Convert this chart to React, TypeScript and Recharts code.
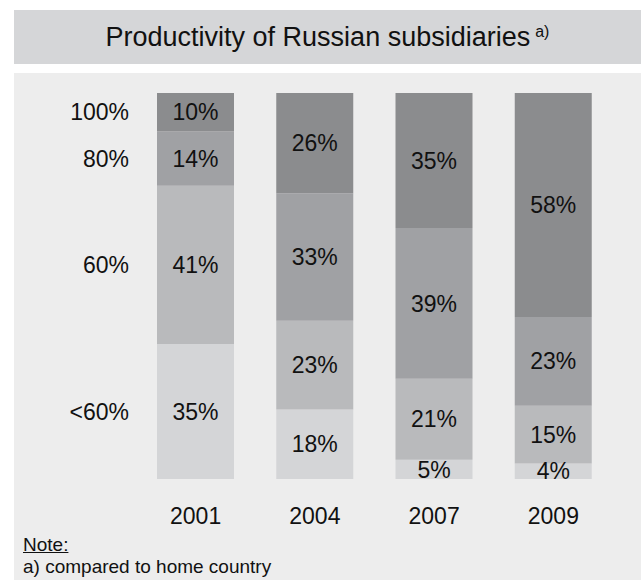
import React from 'react';
import { BarChart, Bar, XAxis, YAxis, LabelList } from 'recharts';

const years = ['2001', '2004', '2007', '2009'];
const below60 = [35, 18, 5, 4];
const pct60 = [41, 23, 21, 15];
const pct80 = [14, 33, 39, 23];
const pct100 = [10, 26, 35, 58];
const yLabels = ['<60%', '60%', '80%', '100%'];

const seriesKeys = ['below60', 'pct60', 'pct80', 'pct100'];
const seriesColors = ['#d4d5d7', '#b9babc', '#a0a1a4', '#8b8c8e'];

const data = years.map((year, i) => ({
  year,
  below60: below60[i],
  pct60: pct60[i],
  pct80: pct80[i],
  pct100: pct100[i],
}));

// y tick positions: midpoints of the first year's stacked segments
const firstVals = [below60[0], pct60[0], pct80[0], pct100[0]];
const yTicks: number[] = [];
{
  let acc = 0;
  for (const v of firstVals) {
    yTicks.push(acc + v / 2);
    acc += v;
  }
}

const FONT = '"Liberation Sans", Arial, Helvetica, sans-serif';
const TEXT = '#111111';

export default function App() {
  return (
    <div
      style={{
        position: 'absolute',
        left: 0,
        top: 0,
        width: 641,
        height: 580,
        background: '#ffffff',
        fontFamily: FONT,
        color: TEXT,
        overflow: 'hidden',
      }}
    >
      <div
        style={{
          position: 'absolute',
          left: 14,
          top: 10,
          width: 627,
          height: 54,
          background: '#d5d6d8',
        }}
      />
      <div
        style={{
          position: 'absolute',
          left: 14,
          top: 23.8,
          width: 627,
          textAlign: 'center',
          fontSize: 27,
          lineHeight: '27px',
          whiteSpace: 'nowrap',
        }}
      >
        Productivity of Russian subsidiaries
        <span
          style={{
            fontSize: 16,
            marginLeft: 5,
            position: 'relative',
            top: -9,
          }}
        >
          a)
        </span>
      </div>
      <div
        style={{
          position: 'absolute',
          left: 14,
          top: 73,
          width: 627,
          height: 507,
          background: '#ededed',
        }}
      />
      <div style={{ position: 'absolute', left: 0, top: 0 }}>
        <BarChart
          width={641}
          height={580}
          data={data}
          margin={{ top: 93, right: 28, bottom: 0, left: 0 }}
          barSize={77}
        >
          <XAxis
            dataKey="year"
            height={101}
            axisLine={false}
            tickLine={false}
            tickSize={0}
            tickMargin={29}
            tick={{ fill: TEXT, fontSize: 23, fontFamily: FONT }}
            interval={0}
          />
          <YAxis
            type="number"
            domain={[0, 100]}
            width={136}
            ticks={yTicks}
            interval={0}
            axisLine={false}
            tickLine={false}
            tickSize={0}
            tickMargin={7}
            tickFormatter={(v: number) => yLabels[yTicks.indexOf(v)] ?? ''}
            tick={{ fill: TEXT, fontSize: 23, fontFamily: FONT }}
          />
          {seriesKeys.map((k, i) => (
            <Bar
              key={k}
              dataKey={k}
              stackId="a"
              fill={seriesColors[i]}
              isAnimationActive={false}
            >
              <LabelList
                dataKey={k}
                position="center"
                formatter={(v: any) => `${v}%`}
                fill={TEXT}
                fontSize={23}
                fontFamily={FONT}
              />
            </Bar>
          ))}
        </BarChart>
      </div>
      <div
        style={{
          position: 'absolute',
          left: 23,
          top: 534.6,
          fontSize: 19,
          lineHeight: '19px',
          textDecoration: 'underline',
          whiteSpace: 'nowrap',
        }}
      >
        Note:
      </div>
      <div
        style={{
          position: 'absolute',
          left: 23,
          top: 557.2,
          fontSize: 19,
          lineHeight: '19px',
          whiteSpace: 'nowrap',
        }}
      >
        a) compared to home country
      </div>
    </div>
  );
}
